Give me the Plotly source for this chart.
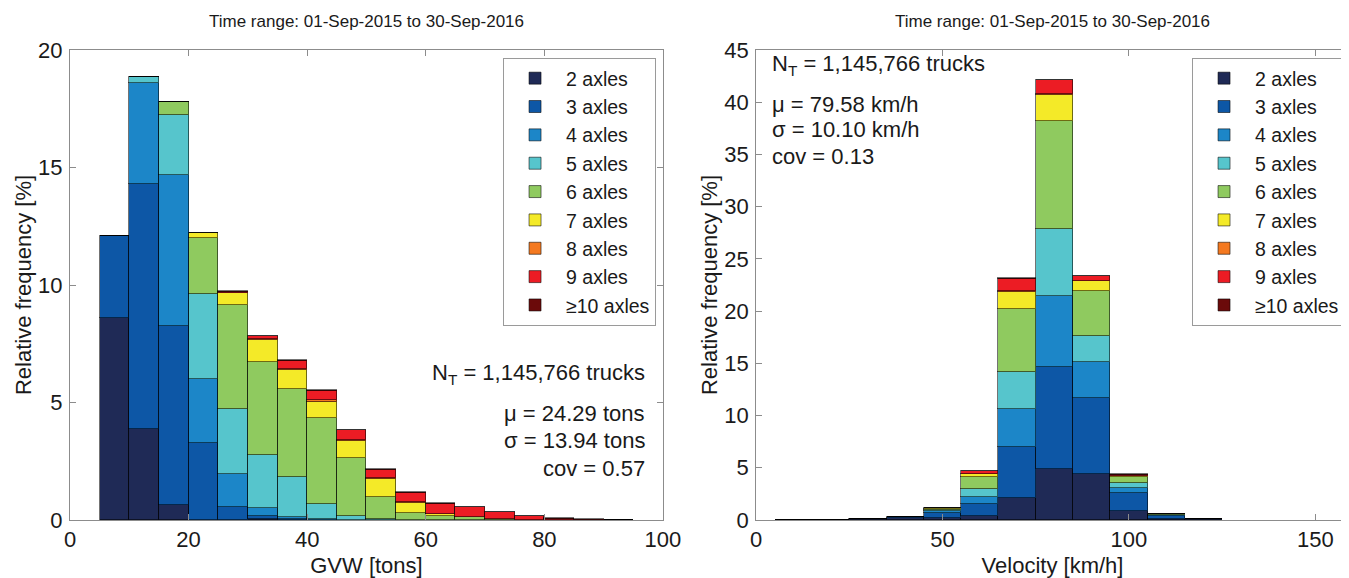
import plotly.graph_objects as go

# ---------------- data ----------------
axle_labels = ["2 axles", "3 axles", "4 axles", "5 axles", "6 axles",
               "7 axles", "8 axles", "9 axles", "≥10 axles"]
axle_colors = ["#1f2a56", "#0d57a6", "#1c86c8", "#56c5cc", "#8fca5f",
               "#f4ea28", "#f47920", "#ec1c24", "#6b0a0a"]

# GVW histogram (bin centres, tons) - relative frequency [%]
gvw_bins = [7.5, 12.5, 17.5, 22.5, 27.5, 32.5, 37.5, 42.5, 47.5,
            52.5, 57.5, 62.5, 67.5, 72.5, 77.5, 82.5, 87.5, 92.5]
gvw_2 = [8.58, 3.86, 0.64, 0.02, 0.02, 0.05, 0.01, 0, 0, 0, 0, 0, 0, 0, 0, 0, 0, 0]
gvw_3 = [3.50, 10.42, 7.62, 3.24, 0.55, 0.10, 0.03, 0.01, 0, 0, 0, 0, 0, 0, 0, 0, 0, 0]
gvw_4 = [0, 4.30, 6.42, 2.73, 1.37, 0.37, 0.07, 0.03, 0.01, 0, 0, 0, 0, 0, 0, 0, 0, 0]
gvw_5 = [0, 0.26, 2.55, 3.61, 2.77, 2.25, 1.74, 0.65, 0.16, 0.03, 0.02, 0.01, 0, 0, 0, 0, 0, 0]
gvw_6 = [0, 0, 0.54, 2.41, 4.44, 3.97, 3.73, 3.65, 2.45, 0.94, 0.28, 0.14, 0.12, 0.03, 0.01, 0, 0, 0]
gvw_7 = [0, 0, 0, 0.19, 0.50, 0.92, 0.81, 0.70, 0.73, 0.78, 0.43, 0.11, 0.02, 0, 0, 0, 0, 0]
gvw_8 = [0, 0, 0, 0.01, 0.02, 0.03, 0.03, 0.05, 0.05, 0.05, 0.02, 0.01, 0, 0, 0, 0, 0, 0]
gvw_9 = [0, 0, 0, 0.01, 0.05, 0.14, 0.36, 0.42, 0.42, 0.34, 0.42, 0.43, 0.40, 0.30, 0.15, 0.04, 0, 0]
gvw_10 = [0, 0, 0, 0, 0.02, 0.02, 0.04, 0.03, 0.03, 0.02, 0.02, 0.02, 0.02, 0.02, 0.02, 0.03, 0.03, 0.02]
gvw_series = [gvw_2, gvw_3, gvw_4, gvw_5, gvw_6, gvw_7, gvw_8, gvw_9, gvw_10]

# Velocity histogram (bin centres, km/h) - relative frequency [%]
vel_bins = [10, 20, 30, 40, 50, 60, 70, 80, 90, 100, 110, 120]
vel_2 = [0.04, 0.04, 0.08, 0.22, 0.15, 0.38, 2.07, 4.85, 4.37, 0.90, 0.05, 0.05]
vel_3 = [0, 0, 0.01, 0.05, 0.50, 1.15, 4.89, 9.77, 7.28, 1.65, 0.38, 0.06]
vel_4 = [0, 0, 0, 0.01, 0.20, 0.67, 3.64, 6.87, 3.45, 0.55, 0.04, 0]
vel_5 = [0, 0, 0, 0.01, 0.10, 0.77, 3.61, 6.35, 2.55, 0.40, 0.02, 0]
vel_6 = [0, 0, 0, 0.02, 0.15, 1.10, 5.97, 10.41, 4.28, 0.65, 0.04, 0]
vel_7 = [0, 0, 0, 0, 0.02, 0.33, 1.69, 2.45, 0.95, 0.10, 0, 0]
vel_8 = [0, 0, 0, 0, 0, 0.02, 0.05, 0.10, 0.05, 0.01, 0, 0]
vel_9 = [0, 0, 0, 0, 0.01, 0.25, 1.18, 1.30, 0.40, 0.07, 0, 0]
vel_10 = [0, 0, 0, 0, 0, 0.02, 0.05, 0.05, 0.04, 0.04, 0.01, 0]
vel_series = [vel_2, vel_3, vel_4, vel_5, vel_6, vel_7, vel_8, vel_9, vel_10]

title_text = "Time range: 01-Sep-2015 to 30-Sep-2016"
gvw_stats = ["N<sub>T</sub> = 1,145,766 trucks", "μ = 24.29 tons", "σ = 13.94 tons", "cov = 0.57"]
vel_stats = ["N<sub>T</sub> = 1,145,766 trucks", "μ = 79.58 km/h", "σ = 10.10 km/h", "cov = 0.13"]

# ---------------- figure ----------------
FONT = "Liberation Sans, Arial, Helvetica, sans-serif"
TXT = "#1a1a1a"
EDGE = "rgba(0,0,0,0.55)"
AXC = "#8c8c8c"

fig = go.Figure()
for lab, col, ys in zip(axle_labels, axle_colors, gvw_series):
    fig.add_trace(go.Bar(x=gvw_bins, y=ys, width=5, name=lab,
                         marker=dict(color=col, line=dict(color=EDGE, width=1)),
                         xaxis="x", yaxis="y", legend="legend"))
for lab, col, ys in zip(axle_labels, axle_colors, vel_series):
    fig.add_trace(go.Bar(x=vel_bins, y=ys, width=10, name=lab,
                         marker=dict(color=col, line=dict(color=EDGE, width=1)),
                         xaxis="x2", yaxis="y2", legend="legend2"))

axis_common = dict(showline=True, linecolor=AXC, linewidth=1, mirror="ticks",
                   ticks="inside", ticklen=6, tickcolor=AXC, showgrid=False,
                   zeroline=False, automargin=False,
                   tickfont=dict(family=FONT, size=22, color=TXT))

legend_common = dict(font=dict(family=FONT, size=19.5, color=TXT),
                     bgcolor="white", bordercolor="#9a9a9a", borderwidth=1,
                     itemwidth=52, yanchor="top", xanchor="right",
                     traceorder="normal", itemclick=False)

title_font = dict(size=22, family=FONT, color=TXT)

# the page body adds an 8 px offset, so the figure is 8 px smaller than the window
fig.update_layout(
    width=1341, height=570,
    margin=dict(l=62, r=0, t=42, b=58),
    paper_bgcolor="white", plot_bgcolor="white",
    barmode="stack", bargap=0,
    font=dict(family=FONT, color=TXT),
    xaxis=dict(domain=[0, 0.4636], range=[0, 100], tickvals=[0, 20, 40, 60, 80, 100],
               title=dict(text="GVW [tons]", font=title_font, standoff=6),
               anchor="y", **axis_common),
    yaxis=dict(domain=[0, 1], range=[0, 20], tickvals=[0, 5, 10, 15, 20],
               title=dict(text="Relative frequency [%]", font=title_font, standoff=0),
               anchor="x", ticklabelstandoff=2, **axis_common),
    xaxis2=dict(domain=[0.5364, 1], range=[0, 159], tickvals=[0, 50, 100, 150],
                title=dict(text="Velocity [km/h]", font=title_font, standoff=6),
                anchor="y2", **axis_common),
    yaxis2=dict(domain=[0, 1], range=[0, 45], tickvals=list(range(0, 46, 5)),
                title=dict(text="Relative frequency [%]", font=title_font, standoff=0),
                anchor="x2", ticklabelstandoff=2, **axis_common),
    legend=dict(x=0.4582, y=0.983, **legend_common),
    legend2=dict(x=0.9969, y=0.983, **legend_common),
)

# subplot titles
for xref in ["x domain", "x2 domain"]:
    fig.add_annotation(text=title_text, xref=xref, yref="paper", x=0.5, y=1.0596,
                       showarrow=False, xanchor="center", yanchor="middle",
                       font=dict(family=FONT, size=17, color=TXT))

# statistics text
left_y = [0.3106, 0.227, 0.1702, 0.11]
for t, yy in zip(gvw_stats, left_y):
    fig.add_annotation(text=t, xref="x domain", yref="y domain", x=0.9725, y=yy,
                       showarrow=False, xanchor="right", yanchor="middle",
                       font=dict(family=FONT, size=22, color=TXT))
right_y = [0.968, 0.883, 0.83, 0.773]
for t, yy in zip(vel_stats, right_y):
    fig.add_annotation(text=t, xref="x2 domain", yref="y2 domain", x=0.0236, y=yy,
                       showarrow=False, xanchor="left", yanchor="middle",
                       font=dict(family=FONT, size=22, color=TXT))

fig.write_html("out.html")
